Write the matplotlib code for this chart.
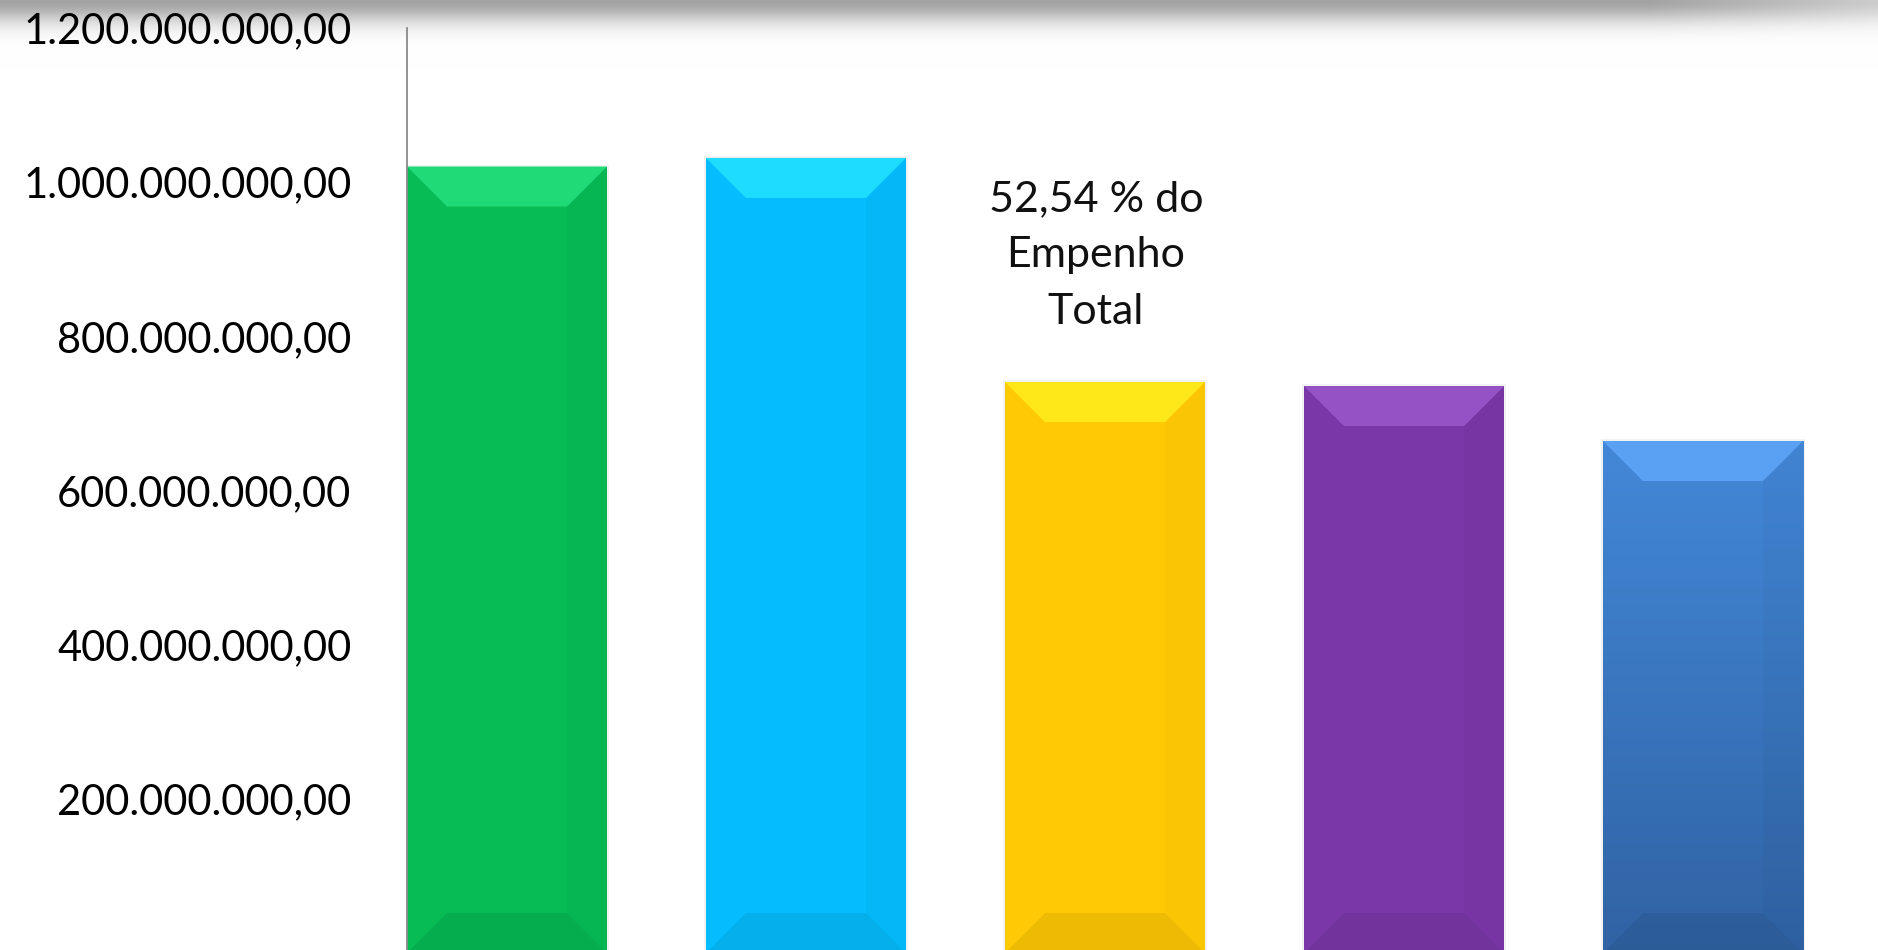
import numpy as np
import matplotlib
matplotlib.use("Agg")
import matplotlib.pyplot as plt
from matplotlib.patches import Polygon, Rectangle
from matplotlib.ticker import FuncFormatter, FixedLocator

plt.rcParams["font.family"] = ["Lato", "DejaVu Sans"]

# dados
categorias = ["Barra 1", "Barra 2", "Barra 3", "Barra 4", "Barra 5"]
valores = [1.0203e9, 1.0314e9, 7.407e8, 7.355e8, 6.642e8]
cores = ["#07BB55", "#05BDFE", "#FFCA05", "#7A37A8", "#3F80CE"]
cores_topo = ["#1FDA76", "#1EDCFF", "#FEE81A", "#9452C4", "#5BA1F3"]
ticks_y = [2e8, 4e8, 6e8, 8e8, 1e9, 1.2e9]
anotacao = "52,54 % do\nEmpenho\nTotal"

W, H = 1878, 950
fig = plt.figure(figsize=(W / 100, H / 100), dpi=100)

# sombra cinza no topo
bg = fig.add_axes([0, 0, 1, 1], zorder=0)
yy = np.arange(0, 70)[:, None]
xx = np.arange(0, W)[None, :]
fade = np.clip(1 - (xx - 1650) / 228 * 0.45, 0.55, 1.0)
dark = 0.36 * np.exp(-(yy / 22.0) ** 2) * fade
img = np.dstack([1 - dark] * 3)
bg.imshow(img, extent=(0, W, 70, 0), aspect="auto", interpolation="bilinear")
bg.set_xlim(0, W)
bg.set_ylim(H, 0)
bg.axis("off")

ax = fig.add_axes([407 / W, -3 / H, (W - 407) / W, 925 / H], zorder=1)
ax.patch.set_alpha(0)

largura = 200 / 299
x = np.arange(len(categorias))
ax.set_xlim(-largura / 2, -largura / 2 + (W - 407) / 299)
ax.set_ylim(0, 1.2e9)

barras = ax.bar(x, valores, width=largura, color=cores, zorder=2, linewidth=0)

# bevel de 40 px convertido para unidades de dados
fig.canvas.draw()
inv = ax.transData.inverted()
p0 = inv.transform((0, 0))
p1 = inv.transform((40, 40))
dx, dy = p1 - p0

for i, b in enumerate(barras):
    x0, w, h = b.get_x(), b.get_width(), b.get_height()
    x1 = x0 + w
    # sombra leve
    ax.add_patch(Rectangle((x0 - 0.008, 0), w + 0.016, h + dy * 0.05,
                           color="#000000", alpha=0.05, zorder=1, lw=0))
    if i == 4:
        # gradiente vertical na última barra
        grad = np.linspace(0, 1, 100)[:, None]
        c_top = np.array(matplotlib.colors.to_rgb("#4388D8"))
        c_bot = np.array(matplotlib.colors.to_rgb("#3063A4"))
        g = c_bot + (c_top - c_bot) * grad
        im = ax.imshow(g[:, None, :].repeat(2, axis=1), extent=(x0, x1, 0, h),
                       origin="lower", aspect="auto", zorder=2.1)
        im.set_clip_path(b)
    # lado direito mais escuro
    ax.add_patch(Polygon([(x1 - dx, dy), (x1, 0), (x1, h), (x1 - dx, h - dy)],
                         closed=True, color="#000000", alpha=0.025, lw=0, zorder=3))
    # base mais escura
    ax.add_patch(Polygon([(x0, 0), (x1, 0), (x1 - dx, dy), (x0 + dx, dy)],
                         closed=True, color="#000000", alpha=0.07, lw=0, zorder=3))
    # topo claro
    ax.add_patch(Polygon([(x0, h), (x1, h), (x1 - dx, h - dy), (x0 + dx, h - dy)],
                         closed=True, color=cores_topo[i], lw=0, zorder=3))

ax.text(1.97, 9.05e8, anotacao, ha="center", va="center", fontsize=31,
        linespacing=1.6, color="#111111", zorder=5)

def fmt_br(v, pos):
    s = f"{v:,.2f}"
    return s.replace(",", "X").replace(".", ",").replace("X", ".")

ax.yaxis.set_major_locator(FixedLocator(ticks_y))
ax.yaxis.set_major_formatter(FuncFormatter(fmt_br))
ax.tick_params(axis="y", length=0, pad=40, labelsize=30, labelcolor="#000000")
ax.set_xticks([])
for s in ["top", "right", "bottom"]:
    ax.spines[s].set_visible(False)
ax.spines["left"].set_color("#8a8a8a")
ax.spines["left"].set_linewidth(1.3)
ax.spines["left"].set_zorder(6)

fig.savefig("out.png", dpi=100)
